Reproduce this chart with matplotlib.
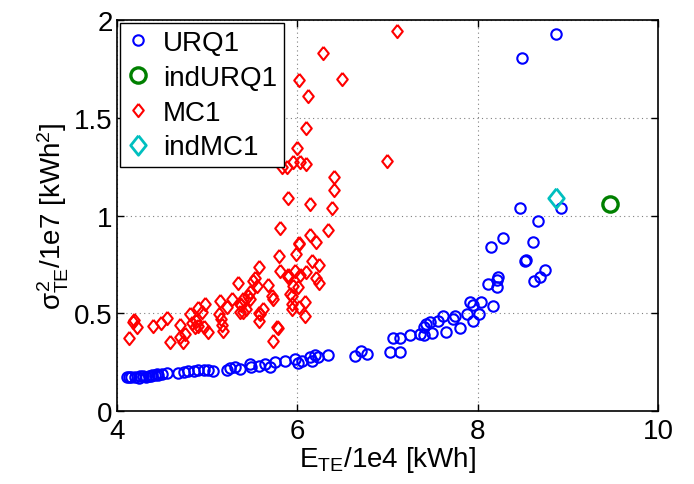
import matplotlib
matplotlib.use('Agg')
import matplotlib.pyplot as plt

plt.rcParams['font.family'] = ['Liberation Sans', 'DejaVu Sans']
plt.rcParams['mathtext.fontset'] = 'custom'
plt.rcParams['mathtext.rm'] = 'Liberation Sans'
plt.rcParams['mathtext.it'] = 'Liberation Sans'

# URQ1 samples (E/1e4, var/1e7)
urq_x = [4.11, 4.13, 4.16, 4.20, 4.24, 4.26, 4.29, 4.32, 4.35, 4.38, 4.39, 4.42,
         4.44, 4.46, 4.50, 4.55, 4.68, 4.74, 4.79, 4.85, 4.90, 4.96, 5.01, 5.07,
         5.22, 5.25, 5.31, 5.36, 5.47, 5.49, 5.57, 5.64, 5.70, 5.75, 5.86, 5.97,
         6.01, 6.05, 6.14, 6.16, 6.20, 6.23, 6.34, 6.64, 6.71, 6.77, 7.03, 7.14,
         7.06, 7.14, 7.25, 7.36, 7.40, 7.43, 7.47, 7.49, 7.40, 7.56, 7.62, 7.65,
         7.73, 7.75, 7.80, 7.88, 7.91, 7.95, 7.95, 8.02, 8.04, 8.17, 8.12, 8.21,
         8.23, 8.21, 8.15, 8.28, 8.47, 8.52, 8.54, 8.61, 8.63, 8.69, 8.75, 8.67,
         8.92, 8.49, 8.87]
urq_y = [0.172, 0.175, 0.172, 0.176, 0.170, 0.177, 0.180, 0.175, 0.180, 0.180, 0.185, 0.185,
         0.190, 0.185, 0.188, 0.192, 0.192, 0.198, 0.206, 0.203, 0.208, 0.208, 0.210, 0.203,
         0.211, 0.218, 0.223, 0.213, 0.240, 0.223, 0.232, 0.240, 0.223, 0.249, 0.257, 0.266,
         0.245, 0.257, 0.274, 0.257, 0.286, 0.274, 0.286, 0.283, 0.308, 0.292, 0.300, 0.300,
         0.372, 0.372, 0.389, 0.394, 0.428, 0.445, 0.457, 0.399, 0.389, 0.462, 0.487, 0.406,
         0.471, 0.487, 0.423, 0.496, 0.556, 0.542, 0.462, 0.496, 0.559, 0.539, 0.650, 0.672,
         0.684, 0.633, 0.840, 0.885, 1.038, 0.769, 0.774, 0.863, 0.663, 0.684, 0.723, 0.970,
         1.038, 1.806, 1.930]

# MC1 samples
mc_x = [4.13, 4.19, 4.22, 4.18, 4.40, 4.49, 4.55, 4.59, 4.70, 4.70, 4.73, 4.75,
        4.81, 4.83, 4.88, 4.86, 4.90, 4.94, 4.98, 4.90, 4.96, 5.01, 5.14, 5.13,
        5.15, 5.17, 5.18, 5.22, 5.27, 5.34, 5.36, 5.40, 5.36, 5.40, 5.43, 5.38,
        5.47, 5.47, 5.45, 5.51, 5.53, 5.55, 5.58, 5.57, 5.57, 5.59, 5.62, 5.68,
        5.72, 5.73, 5.73, 5.77, 5.79, 5.80, 5.81, 5.81, 5.90, 5.90, 5.92, 5.94,
        5.94, 5.94, 5.95, 5.97, 5.99, 6.01, 6.02, 6.02, 6.03, 6.02, 6.08, 6.08,
        6.10, 6.14, 6.16, 6.21, 6.21, 6.24, 6.24, 6.34, 5.90, 6.14, 6.38, 6.41,
        6.41, 5.83, 5.88, 5.95, 6.03, 6.10, 6.00, 6.10, 6.12, 6.02, 6.49, 6.29,
        7.11, 7.00]
mc_y = [0.372, 0.467, 0.428, 0.454, 0.433, 0.450, 0.477, 0.354, 0.438, 0.377, 0.351, 0.394,
        0.496, 0.450, 0.462, 0.428, 0.525, 0.505, 0.547, 0.433, 0.428, 0.406, 0.564, 0.496,
        0.471, 0.440, 0.411, 0.530, 0.573, 0.655, 0.547, 0.573, 0.507, 0.505, 0.520, 0.540,
        0.573, 0.607, 0.590, 0.667, 0.680, 0.641, 0.735, 0.462, 0.500, 0.496, 0.522, 0.645,
        0.590, 0.573, 0.360, 0.428, 0.423, 0.791, 0.718, 0.934, 0.684, 0.696, 0.598, 0.547,
        0.520, 0.590, 0.641, 0.718, 0.803, 0.633, 0.854, 0.858, 0.696, 0.530, 0.556, 0.487,
        0.709, 0.900, 0.769, 0.863, 0.679, 0.747, 0.655, 0.926, 1.089, 1.059, 1.037, 1.198,
        1.132, 1.246, 1.246, 1.275, 1.272, 1.263, 1.345, 1.446, 1.610, 1.693, 1.698, 1.831,
        1.945, 1.279]

ind_urq = (9.47, 1.059)
ind_mc = (8.87, 1.091)

# MATLAB-like diamond (a bit narrower than tall)
diamond = [(0, 1), (0.8, 0), (0, -1), (-0.8, 0), (0, 1)]

fig = plt.figure(figsize=(6.94, 4.85), dpi=100)
ax = fig.add_axes([0.1686, 0.1505, 0.7795, 0.8062])

ax.plot(urq_x, urq_y, 'o', ls='none', mfc='none', mec='#0000ff', ms=7.5, mew=1.5, label='URQ1')
ax.plot(ind_urq[0], ind_urq[1], 'o', ls='none', mfc='none', mec='#008000', ms=11, mew=2.4, label='indURQ1')
ax.plot(mc_x, mc_y, marker=diamond, ls='none', mfc='none', mec='#ff0000', ms=9.5, mew=1.5, label='MC1')
ax.plot(ind_mc[0], ind_mc[1], marker=diamond, ls='none', mfc='none', mec='#00bfbf', ms=14, mew=2.0, label='indMC1')

ax.set_xlim(4, 10)
ax.set_ylim(0, 2)
ax.set_xticks([4, 6, 8, 10])
ax.set_yticks([0, 0.5, 1, 1.5, 2])
ax.set_yticklabels(['0', '0.5', '1', '1.5', '2'])
ax.grid(True, ls=(0, (1, 3)), color='#808080', lw=0.8)
ax.tick_params(direction='in', top=True, right=True, labelsize=20, length=5, width=1)
ax.tick_params(axis='x', pad=5)
ax.tick_params(axis='y', pad=3)
for s in ax.spines.values():
    s.set_linewidth(1.2)

ax.set_xlabel(r'E$_{\rm TE}$/1e4 [kWh]', fontsize=20, labelpad=0)
ax.set_ylabel(r'$\sigma^2_{\rm TE}$/1e7 [kWh$^2$]', fontsize=20, labelpad=2)

leg = ax.legend(loc='upper left', bbox_to_anchor=(0.0, 1.0), fontsize=20, fancybox=False,
                framealpha=1, edgecolor='black', handlelength=0.8, handletextpad=0.5,
                borderpad=0.25, labelspacing=0.32, borderaxespad=0.1)
leg.get_frame().set_linewidth(1.0)

fig.savefig('out.png', dpi=100)
